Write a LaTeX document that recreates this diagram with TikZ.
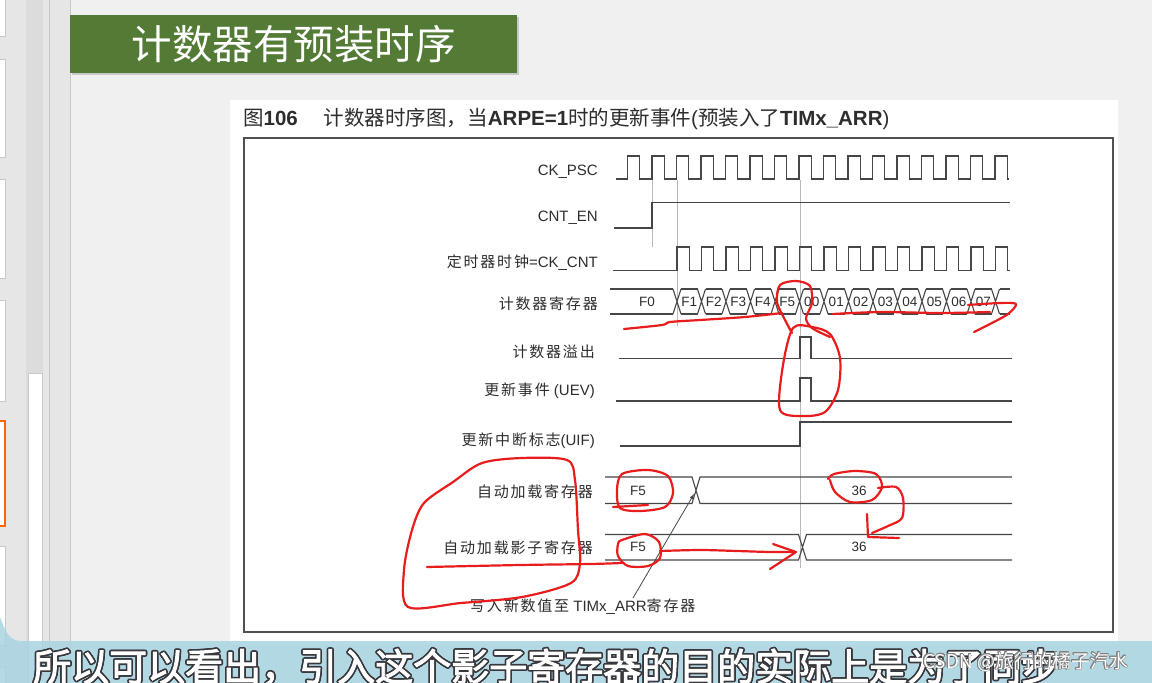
\documentclass[tikz,border=0pt]{standalone}
\usepackage{fontspec}
\setmainfont{Liberation Sans}
\newfontfamily\cjk{Noto Sans CJK SC}
\newfontfamily\cjkl{Noto Sans CJK SC}[LetterSpace=12]
\newfontfamily\cjkb{Noto Sans CJK SC}[FakeBold=2.5]
\usepackage[copies]{contour}
\contourlength{1.6pt}
\usepackage{tikz}
\usetikzlibrary{shadows, arrows, shapes}
\definecolor{slidebg}{RGB}{240,240,240}
\definecolor{uigray}{RGB}{230,230,230}
\definecolor{trackc}{RGB}{220,220,220}
\definecolor{thumbc}{RGB}{200,200,200}
\definecolor{titlegreen}{RGB}{83,123,53}
\definecolor{sigc}{RGB}{70,70,70}
\definecolor{guidec}{RGB}{185,185,185}
\definecolor{txtc}{RGB}{45,45,45}
\definecolor{boxc}{RGB}{80,80,80}
\definecolor{penred}{RGB}{232,28,28}
\definecolor{bandc}{RGB}{168,212,226}
\definecolor{outlc}{RGB}{55,55,60}

\begin{document}
\begin{tikzpicture}[x=1pt, y=-1pt,
	sig/.style={draw=sigc, line width=1.1pt},
	guide/.style={draw=guidec, line width=0.6pt},
	lbl/.style={anchor=east, inner sep=0pt, text=txtc, font=\fontsize{15}{15}\selectfont},
	val/.style={inner sep=0pt, text=txtc, font=\fontsize{13.5}{13.5}\selectfont},
	pen/.style={draw=penred, line width=2.2pt, line cap=round, line join=round},
	]
	\useasboundingbox (0,0) rectangle (1152,683);
	\fill[slidebg] (0,0) rectangle (1152,683);
	\fill[uigray] (0,0) rectangle (70,683);
	\foreach \a/\b in {-62/36, 59/157, 179/278, 300/401, 546/645, 667/760}
		\draw[thumbc, fill=white] (-5,\a) rectangle (5,\b);
	\draw[orange!80!red, line width=1.2pt, fill=white] (-5,421) rectangle (5,526);
	\fill[trackc] (26,0) rectangle (43,683);
	\draw[thumbc, fill=white] (28,373) rectangle (42,690);
	\draw[thumbc] (49,0) -- (49,683);
	\draw[thumbc] (70,0) -- (70,683);

	\node[fill=titlegreen, minimum width=447pt, minimum height=58pt, inner sep=0pt, anchor=north west,
	drop shadow={opacity=0.35, shadow xshift=2pt, shadow yshift=-2pt},
	text=white, font=\cjk\fontsize{40.5}{40.5}\selectfont] (title) at (70,15) {计数器有预装时序};

	\fill[white] (230,100) rectangle (1118,645);
	\node[anchor=base west, inner sep=0pt, text=txtc, font=\fontsize{20.5}{20.5}\selectfont] (cap) at (243,125)
	{{\cjk 图}\textbf{106}\hspace{26pt}{\cjk 计数器时序图，当}\textbf{ARPE=1}{\cjk 时的更新事件}({\cjk 预装入了}\textbf{TIMx\_ARR})};
	\draw[boxc, line width=1.3pt] (244,138) rectangle (1113,632);

	\node[lbl] (lpsc) at (598,172) {CK\_PSC};
	\node[lbl] (len) at (598,218) {CNT\_EN};
	\node[lbl] (lcnt) at (598,263) {{\cjkl 定时器时钟}={CK\_CNT}};
	\node[lbl] (lreg) at (598,304) {\cjkl 计数器寄存器};
	\node[lbl] (lovf) at (595,352) {\cjkl 计数器溢出};
	\node[lbl] (luev) at (595,391) {{\cjkl 更新事件} (UEV)};
	\node[lbl] (luif) at (595,441) {{\cjkl 更新中断标志}(UIF)};
	\node[lbl] (larr) at (593,492) {\cjkl 自动加载寄存器};
	\node[lbl] (lsh) at (593,548) {\cjkl 自动加载影子寄存器};

	\draw[guide] (652,180) -- (652,247);
	\draw[guide] (677,180) -- (677,326);
	\draw[guide] (800,180) -- (800,568);

	\draw[sig] (616,179) -- (627.5,179)
	\foreach \k in {0,...,14} { -- ++(0,-23) -- ++(12.25,0) -- ++(0,23) -- ++(12.25,0) }
	-- ++(0,-23) -- ++(12.25,0) -- ++(0,23) -- ++(2,0);
	\draw[sig] (614,228) -- (652,228) -- (652,202.5) -- (1010,202.5);
	\draw[sig] (613,270.5) -- (677,270.5)
	\foreach \k in {0,...,12} { -- ++(0,-23.5) -- ++(12.25,0) -- ++(0,23.5) -- ++(12.25,0) }
	-- ++(0,-23.5) -- ++(12.25,0) -- ++(0,23.5) -- ++(2,0);

	\draw[sig] (610,289) -- (673,289) (610,314) -- (673,314);
	\foreach \j in {0,...,13}
		\draw[sig] ({673+24.5*\j},289) -- ++(8,25) ({673+24.5*\j},314) -- ++(8,-25);
	\foreach \j in {0,...,12}
		\draw[sig] ({681+24.5*\j},289) -- ++(16.5,0) ({681+24.5*\j},314) -- ++(16.5,0);
	\draw[sig] (999.5,289) -- (1010,289) (999.5,314) -- (1010,314);
	\node[val] (cf0) at (647,301.5) {F0};
	\foreach \v [count=\j from 0] in {F1,F2,F3,F4,F5,00,01,02,03,04,05,06,07}
		\node[val] (c\j) at ({689.25+24.5*\j},301.5) {\v};

	\draw[sig] (619,358.5) -- (800,358.5) -- (800,337) -- (811,337) -- (811,358.5) -- (1012,358.5);
	\draw[sig] (616,401) -- (800,401) -- (800,378) -- (811,378) -- (811,401) -- (1012,401);
	\draw[sig] (620,446) -- (800,446) -- (800,422) -- (1012,422);

	\draw[sig] (605,477) -- (692,477) -- (700,503.5) -- (1012,503.5)
	(605,503.5) -- (692,503.5) -- (700,477) -- (1012,477);
	\draw[sig] (605,534.5) -- (798.5,534.5) -- (806.5,560) -- (1012,560)
	(605,560) -- (798.5,560) -- (806.5,534.5) -- (1012,534.5);
	\node[val] (arrold) at (638,491) {F5};
	\node[val] (arrnew) at (859,491) {36};
	\node[val] (shold) at (638,547) {F5};
	\node[val] (shnew) at (859,547) {36};

	\node[anchor=west, inner sep=0pt, text=txtc, font=\fontsize{15}{15}\selectfont] (wnote) at (470,607)
	{{\cjkl 写入新数值至} TIMx\_ARR{\cjkl 寄存器}};
	\coordinate (wfrom) at (633,598);
	\coordinate (wto) at (694,494);
	\draw[sigc, line width=0.8pt, -latex] (wfrom) -- (wto);

	\draw[pen] plot[smooth] coordinates {(624,329) (662,325) (670,322) (700,320) (745,317) (782,313)};
	\draw[pen] plot[smooth] coordinates {(792,333) (785,320) (777,302) (780,285) (796,281) (810,286) (812,303) (806,318) (812,328) (830,337)};
	\draw[pen] plot[smooth cycle] coordinates {(793,328) (783,365) (780,410) (803,416) (825,412) (838,390) (840,358) (830,334) (812,327)};
	\draw[pen] plot[smooth] coordinates {(833,314) (880,312) (940,313) (990,312)};
	\draw[pen] plot[smooth] coordinates {(968,305) (1000,303) (1016,304) (1008,314) (990,324) (974,332)};
	\draw[pen] plot[smooth cycle] coordinates {(622,474) (648,470) (668,476) (673,493) (665,507) (640,511) (620,508) (617,490)};
	\draw[pen] (613,507) -- (648,505);
	\draw[pen] plot[smooth] coordinates {(828,479) (834,474) (855,471) (876,474) (882,487) (872,500) (850,502) (835,492) (830,480)};
	\draw[pen] plot[smooth] coordinates {(878,488) (896,487) (903,498) (902,518) (888,526) (872,533)};
	\draw[pen] (867,514) -- (868,537) -- (899,538);
	\draw[pen] plot[smooth cycle] coordinates {(622,540) (645,534) (659,542) (660,558) (648,566) (628,566) (618,556) (618,544)};
	\draw[pen] plot[smooth] coordinates {(427,567) (520,565) (590,564) (622,563)};
	\draw[pen] plot[smooth] coordinates {(660,551) (700,550) (737,551) (770,552) (795,552)};
	\draw[pen] (773,544) -- (796,552) -- (770,569);
	\draw[pen] plot[smooth cycle] coordinates {(453,482) (482,463) (522,458) (567,460) (575,480) (578,530) (580,563) (571,583) (522,597) (461,603) (408,607) (404,570) (412,530) (424,503)};

	\fill[bandc, opacity=0.85] (0,617) .. controls (5,630) and (8,640) .. (20,641) -- (1152,641) -- (1152,683) -- (0,683) -- cycle;
	\node[anchor=base west, inner sep=0pt, text=white, font=\cjkb\fontsize{38}{38}\selectfont] (sub) at (33,681)
	{\contour{outlc}{所以可以看出，引入这个影子寄存器的目的实际上是为了同步}};
	\node[anchor=base west, inner sep=0pt, text=white, font=\cjk\fontsize{19}{19}\selectfont] (wm) at (923,668)
	{\contourlength{0.6pt}\contour{gray}{CSDN @旅行的橘子汽水}};
\end{tikzpicture}
\end{document}
